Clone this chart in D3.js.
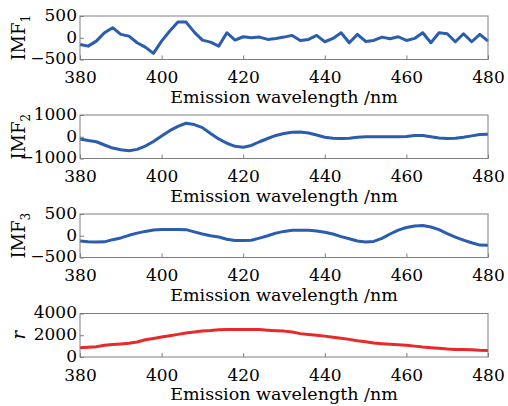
<!DOCTYPE html>
<html>
<head>
<meta charset="utf-8">
<script src="https://cdn.jsdelivr.net/npm/d3@7"></script>
<style>
  body { margin: 0; background: #fff; }
  text { font-family: "DejaVu Serif", serif; fill: #000; }
</style>
</head>
<body>
<div id="chart"></div>
<script>
// emission wavelengths (nm)
const wavelength = [380,382,384,386,388,390,392,394,396,398,400,402,404,406,408,410,412,414,416,418,420,
  422,424,426,428,430,432,434,436,438,440,442,444,446,448,450,452,454,456,458,460,
  462,464,466,468,470,472,474,476,478,480];

const imf1 = [-154,-193,-77,115,231,77,38,-115,-215,-360,-77,154,360,360,130,-54,-100,-193,115,-54,23,
  0,15,-38,-15,15,54,-62,-38,54,-92,-15,115,-115,77,-85,-62,15,-23,23,-62,
  -15,115,-115,115,92,-92,92,-92,77,-77];

const imf2 = [-100,-170,-230,-380,-520,-600,-640,-580,-430,-220,30,280,480,620,560,420,150,-100,-300,-440,-480,
  -400,-230,-80,60,150,210,220,170,80,-20,-70,-75,-70,-20,0,0,0,0,0,10,
  60,60,0,-60,-75,-70,-20,40,100,110];

const imf3 = [-120,-140,-145,-140,-90,-50,10,60,100,130,145,145,145,140,90,40,0,-30,-80,-110,-110,
  -105,-55,0,60,100,125,125,125,110,80,40,-20,-70,-120,-145,-130,-60,40,130,190,
  225,235,200,140,50,-30,-100,-160,-215,-220];

const residue = [850,900,950,1080,1150,1200,1260,1380,1580,1700,1830,1960,2080,2200,2300,2400,2440,2500,2530,2530,2530,
  2530,2520,2470,2420,2380,2300,2150,2070,2000,1920,1820,1720,1620,1500,1400,1280,1220,1170,1120,1070,
  1000,920,860,800,740,700,680,660,620,600];

const xTicks = [380, 400, 420, 440, 460, 480];
const yTicks1 = [-500, 0, 500];
const yTicks2 = [-1000, 0, 1000];
const yTicks3 = [-500, 0, 500];
const yTicks4 = [0, 2000, 4000];

const panels = [
  {values: imf1, ticks: yTicks1, label: "IMF", sub: "1", color: "#2a5cb0", top: 16},
  {values: imf2, ticks: yTicks2, label: "IMF", sub: "2", color: "#2a5cb0", top: 115},
  {values: imf3, ticks: yTicks3, label: "IMF", sub: "3", color: "#2a5cb0", top: 214},
  {values: residue, ticks: yTicks4, label: "r", sub: null, color: "#e8282a", top: 313.5}
];

const width = 508, height = 406;
const left = 80, right = 488, ph = 43.5;

const svg = d3.select("#chart")
  .append("svg")
  .attr("width", width)
  .attr("height", height);

const x = d3.scaleLinear().domain([380, 480]).range([left, right]);

const fmt = d => d < 0 ? "\u2212" + Math.abs(d) : String(d);

panels.forEach(function(p) {
  const y = d3.scaleLinear()
    .domain([p.ticks[0], p.ticks[p.ticks.length - 1]])
    .range([p.top + ph, p.top]);

  const g = svg.append("g");

  // data line
  const line = d3.line()
    .x((d, i) => x(wavelength[i]))
    .y(d => y(d));

  g.append("path")
    .datum(p.values)
    .attr("fill", "none")
    .attr("stroke", p.color)
    .attr("stroke-width", 3)
    .attr("stroke-linejoin", "round")
    .attr("d", line);

  // bottom axis, ticks inward
  const xAxis = g.append("g")
    .attr("transform", "translate(0," + (p.top + ph) + ")")
    .call(d3.axisBottom(x).tickValues(xTicks).tickSizeInner(-4).tickSizeOuter(0).tickPadding(0));
  xAxis.select(".domain").remove();
  xAxis.selectAll("line").attr("stroke", "#7f7f7f");
  xAxis.selectAll("text")
    .attr("y", 23.5)
    .attr("dy", null)
    .style("font-size", "17px")
    .style("font-family", "DejaVu Serif, serif");

  // left axis, ticks inward
  const yAxis = g.append("g")
    .attr("transform", "translate(" + left + ",0)")
    .call(d3.axisLeft(y).tickValues(p.ticks).tickFormat(fmt).tickSizeInner(-4).tickSizeOuter(0).tickPadding(0));
  yAxis.select(".domain").remove();
  yAxis.selectAll("line").attr("stroke", "#7f7f7f");
  yAxis.selectAll("text")
    .attr("x", -3)
    .attr("dy", "0.25em")
    .style("font-size", "17px")
    .style("font-family", "DejaVu Serif, serif");

  // frame
  g.append("rect")
    .attr("x", left)
    .attr("y", p.top)
    .attr("width", right - left)
    .attr("height", ph)
    .attr("fill", "none")
    .attr("stroke", "#7f7f7f")
    .attr("stroke-width", 1);

  // x label
  g.append("text")
    .attr("x", (left + right) / 2)
    .attr("y", p.top + ph + 43)
    .attr("text-anchor", "middle")
    .style("font-size", "17.5px")
    .text("Emission wavelength /nm");

  // y label
  const yl = g.append("text")
    .attr("transform", "translate(25," + (p.top + ph / 2) + ") rotate(-90)")
    .attr("text-anchor", "middle")
    .style("font-size", "18px");
  if (p.sub) {
    yl.append("tspan").text(p.label);
    yl.append("tspan").attr("dy", 5).style("font-size", "12px").text(p.sub);
  } else {
    yl.append("tspan").style("font-style", "italic").text(p.label);
  }
});
</script>
</body>
</html>
